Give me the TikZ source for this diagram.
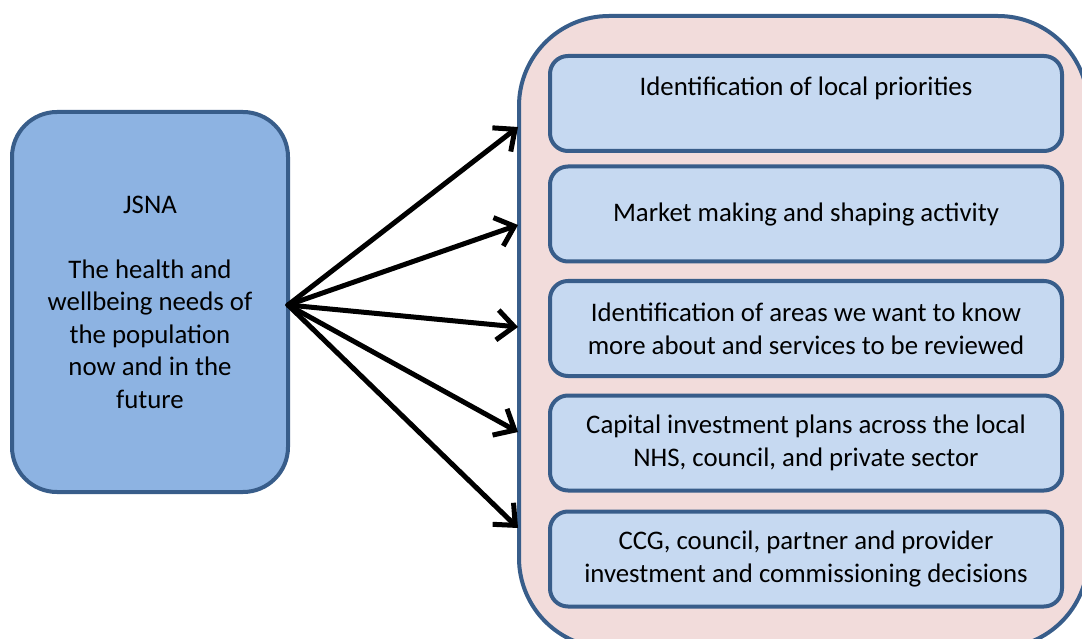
\documentclass[tikz,border=0pt]{standalone}
\usepackage{fontspec}
\setmainfont{Carlito}
\usetikzlibrary{arrows.meta}
\definecolor{edgeblue}{HTML}{385D8A}
\definecolor{jsnafill}{HTML}{8DB3E2}
\definecolor{innerfill}{HTML}{C6D9F1}
\definecolor{pinkfill}{HTML}{F2DCDB}
\begin{document}
\begin{tikzpicture}[x=1pt,y=-1pt,
  txt/.style={font=\fontsize{26.8}{33}\selectfont, align=center, text=black},
  itembox/.style={draw=edgeblue, line width=4pt, rounded corners=18pt, fill=innerfill,
    minimum width=512pt, minimum height=95pt, inner sep=0pt, outer sep=0pt, txt},
  arr/.style={-{Straight Barb[length=17pt,width=30pt]}, line width=5pt, line cap=round, line join=round, black}]
\useasboundingbox (0,0) rectangle (1082,639);
\clip (0,0) rectangle (1082,639);
\fill[white] (0,0) rectangle (1082,639);
% container
\node[draw=edgeblue, fill=pinkfill, line width=4pt, rounded corners=90pt,
  minimum width=569pt, minimum height=632pt, outer sep=0pt, inner sep=0pt,
  anchor=north west] (cont) at (519,16) {};
% JSNA box
\node[draw=edgeblue, fill=jsnafill, line width=4pt, rounded corners=45pt,
  minimum width=276pt, minimum height=380pt, outer sep=0pt, inner sep=0pt,
  font=\fontsize{26.8}{32.5}\selectfont, align=center] (jsna) at (150,302)
  {JSNA\\[32.5pt]The health and\\wellbeing needs of\\the population\\now and in the\\future};
% inner boxes
\node[itembox] (b1) at (806,103.5) {};
\node[txt] (b1t) at (806,88) {Identification of local priorities};
\node[itembox] (b2) at (806,214) {Market making and shaping activity};
\node[itembox] (b3) at (806,328.5) {Identification of areas we want to know\\more about and services to be reviewed};
\node[itembox] (b4) at (806,443) {Capital investment plans across the local\\NHS, council, and private sector};
\node[itembox] (b5) at (806,559) {CCG, council, partner and provider\\investment and commissioning decisions};
% arrows
\coordinate (src) at ([yshift=-3pt]jsna.east);
\coordinate (t1) at (518,127);
\coordinate (t2) at (518,225);
\coordinate (t3) at (518,327);
\coordinate (t4) at (518,432);
\coordinate (t5) at (518,528);
\foreach \t in {t1,t2,t3,t4,t5} \draw[arr] (src) -- (\t);
\end{tikzpicture}
\end{document}
